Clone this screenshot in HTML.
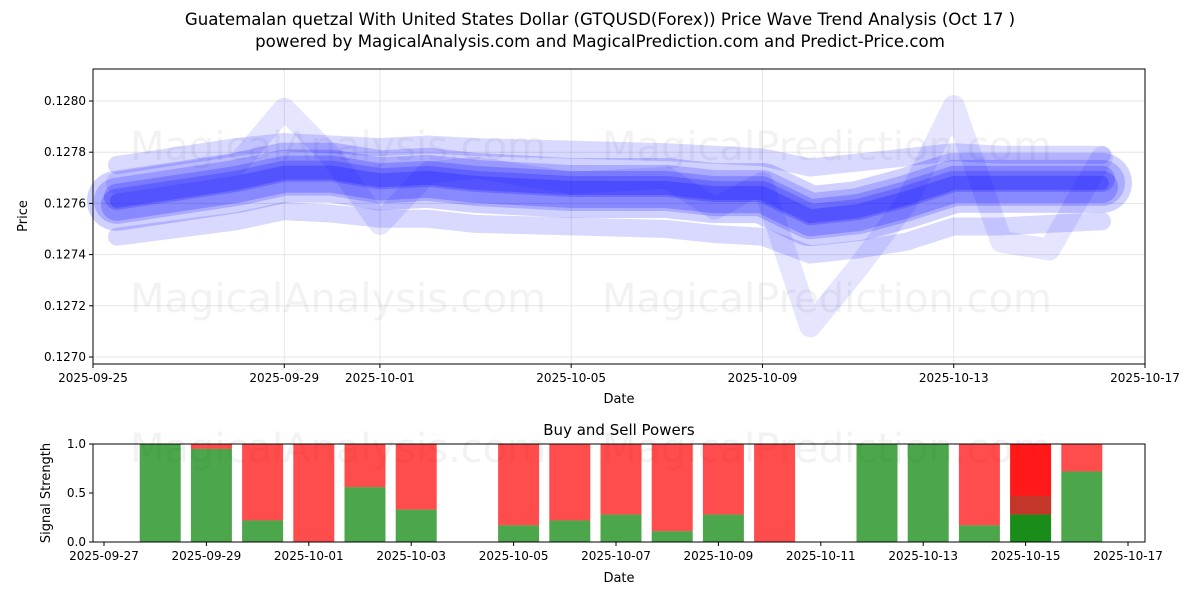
<!DOCTYPE html>
<html><head><meta charset="utf-8"><style>
body{margin:0;background:#fff;font-family:"Liberation Sans","DejaVu Sans",sans-serif}
svg text{font-family:"DejaVu Sans","Liberation Sans",sans-serif}
</style></head><body>
<svg id="c" width="1200" height="600" viewBox="0 0 1200 600">
<text x="600" y="25" text-anchor="middle" font-size="16.6">Guatemalan quetzal With United States Dollar (GTQUSD(Forex)) Price Wave Trend Analysis (Oct 17 )</text>
<text x="600" y="47" text-anchor="middle" font-size="16.6">powered by MagicalAnalysis.com and MagicalPrediction.com and Predict-Price.com</text>
<g id="topPanel"></g>
<g id="botPanel"></g>
</svg>
<script>
// price chart data (day offsets from 2025-09-25)
const waveDays = [0.5, 3, 4, 5, 6, 7, 8, 10, 12, 13, 14, 15, 16, 17, 18, 19, 20, 21.1];
const waveMain = [0.12761,0.12768,0.12772,0.12772,0.12769,0.12770,0.12768,0.12766,0.12766,0.12764,0.12764,0.12755,0.12757,0.12762,0.12768,0.12768,0.12768,0.12768];
const waveUpper = [0.12775,0.12782,0.12784,0.12783,0.12782,0.12783,0.12782,0.12781,0.12780,0.12779,0.12778,0.12774,0.12776,0.12778,0.12780,0.12779,0.12779,0.12779];
const waveLower = [0.12747,0.12753,0.12757,0.12756,0.12754,0.12754,0.12752,0.12751,0.12750,0.12748,0.12747,0.12740,0.12742,0.12745,0.12751,0.12751,0.12752,0.12753];
const waveSpike = [0.12768,0.12775,0.12797,0.12778,0.12752,0.12772,0.12774,0.12768,0.12770,0.12758,0.12768,0.12712,0.12735,0.12760,0.12798,0.12745,0.12742,0.12778];
const priceTicks = [0.1270,0.1272,0.1274,0.1276,0.1278,0.1280];
const dateTicksTop = ["2025-09-25","2025-09-29","2025-10-01","2025-10-05","2025-10-09","2025-10-13","2025-10-17"];
const dateTickDaysTop = [0,4,6,10,14,18,22];
// signal data (day offsets from 2025-09-27)
const barDays = [1,2,3,4,5,6,8,9,10,11,12,13,15,16,17,18,19];
const buyVals = [1.0,0.95,0.22,0,0.56,0.33,0.17,0.22,0.28,0.11,0.28,0,1,1,0.17,0.28,0.72];
const sigTicks = [0,0.5,1.0];
const dateTicksBot = ["2025-09-27","2025-09-29","2025-10-01","2025-10-03","2025-10-05","2025-10-07","2025-10-09","2025-10-11","2025-10-13","2025-10-15","2025-10-17"];

const NS="http://www.w3.org/2000/svg";
function mk(t,a,p){const e=document.createElementNS(NS,t);for(const k in a)e.setAttribute(k,a[k]);p.appendChild(e);return e;}
const topG=document.getElementById('topPanel'), botG=document.getElementById('botPanel');
const L=93,R=1145,T=69,B=364;
const xT=d=>L+d*(R-L)/22;
const yT=v=>357-(v-0.1270)*256000;
mk('rect',{x:L,y:T,width:R-L,height:B-T,fill:'#fff'},topG);
priceTicks.forEach(v=>{const g=mk('line',{x1:L,x2:R,y1:yT(v),y2:yT(v),stroke:'#e6e6e6'},topG);
});
dateTickDaysTop.forEach(d=>{mk('line',{x1:xT(d),x2:xT(d),y1:T,y2:B,stroke:'#e6e6e6'},topG);});
const wm=mk('g',{fill:'#000','fill-opacity':0.05,'font-size':40},topG);
[[130,160,'MagicalAnalysis.com'],[602,160,'MagicalPrediction.com'],[130,312,'MagicalAnalysis.com'],[602,312,'MagicalPrediction.com'],[130,462,'MagicalAnalysis.com'],[602,462,'MagicalPrediction.com']].forEach(w=>{const t=mk('text',{x:w[0],y:w[1]},wm);t.textContent=w[2];
});
function pl(vals,off,w,op){const pts=waveDays.map((d,i)=>xT(d)+','+(yT(vals[i])+off)).join(' ');
const p=mk('polyline',{points:pts,fill:'none',stroke:'#0000ff','stroke-opacity':op,'stroke-width':w,'stroke-linejoin':'round','stroke-linecap':'round'},topG);
}
pl(waveSpike,0,22,0.1);
pl(waveUpper,0,18,0.15);pl(waveLower,0,18,0.15);
pl(waveMain,0,60,0.18);pl(waveMain,0,46,0.18);pl(waveMain,4,32,0.2);pl(waveMain,-4,26,0.2);pl(waveMain,0,14,0.22);
mk('rect',{x:L,y:T,width:R-L,height:B-T,fill:'none',stroke:'#000'},topG);
priceTicks.forEach(v=>{mk('line',{x1:L-4,x2:L,y1:yT(v),y2:yT(v),stroke:'#000'},topG);
const t=mk('text',{x:L-7,y:yT(v)+4,'text-anchor':'end','font-size':12},topG);t.textContent=v.toFixed(4);
});
dateTicksTop.forEach((s,i)=>{const x=xT(dateTickDaysTop[i]);mk('line',{x1:x,x2:x,y1:B,y2:B+4,stroke:'#000'},topG);
const t=mk('text',{x:x,y:B+18,'text-anchor':'middle','font-size':12},topG);t.textContent=s;
});
let t=mk('text',{x:619,y:403,'text-anchor':'middle','font-size':13},topG);t.textContent='Date';

t=mk('text',{x:27,y:216,'text-anchor':'middle','font-size':13,transform:'rotate(-90 27 216)'},topG);t.textContent='Price';


// bottom
const BT=444,BB=542;
const xB=d=>104+d*51.2;
const yB=v=>BB-v*(BB-BT);
t=mk('text',{x:619,y:435,'text-anchor':'middle','font-size':15},botG);t.textContent='Buy and Sell Powers';

barDays.forEach((d,i)=>{const cx=xB(d)+5,w=41,g=buyVals[i];
const special=d===18;
const r=mk('rect',{x:cx-w/2,y:BT,width:w,height:yB(g)-BT,fill:'#ff0000','fill-opacity':special?0.9:0.7},botG);

if(special){const r2=mk('rect',{x:cx-w/2,y:yB(0.47),width:w,height:yB(g)-yB(0.47),fill:'#c0392b','fill-opacity':0.95},botG);
}
const b=mk('rect',{x:cx-w/2,y:yB(g),width:w,height:BB-yB(g),fill:'#008000','fill-opacity':special?0.9:0.7},botG);
});
mk('rect',{x:L,y:BT,width:R-L,height:BB-BT,fill:'none',stroke:'#000'},botG);
sigTicks.forEach(v=>{mk('line',{x1:L-4,x2:L,y1:yB(v),y2:yB(v),stroke:'#000'},botG);
const t=mk('text',{x:L-7,y:yB(v)+4,'text-anchor':'end','font-size':12},botG);t.textContent=v.toFixed(1);
});
dateTicksBot.forEach((s,i)=>{const x=xB(i*2);mk('line',{x1:x,x2:x,y1:BB,y2:BB+4,stroke:'#000'},botG);
const t=mk('text',{x:x,y:BB+18,'text-anchor':'middle','font-size':12},botG);t.textContent=s;
});
t=mk('text',{x:619,y:582,'text-anchor':'middle','font-size':13},botG);t.textContent='Date';

t=mk('text',{x:50,y:493,'text-anchor':'middle','font-size':13,transform:'rotate(-90 50 493)'},botG);t.textContent='Signal Strength';

</script>
</body></html>
